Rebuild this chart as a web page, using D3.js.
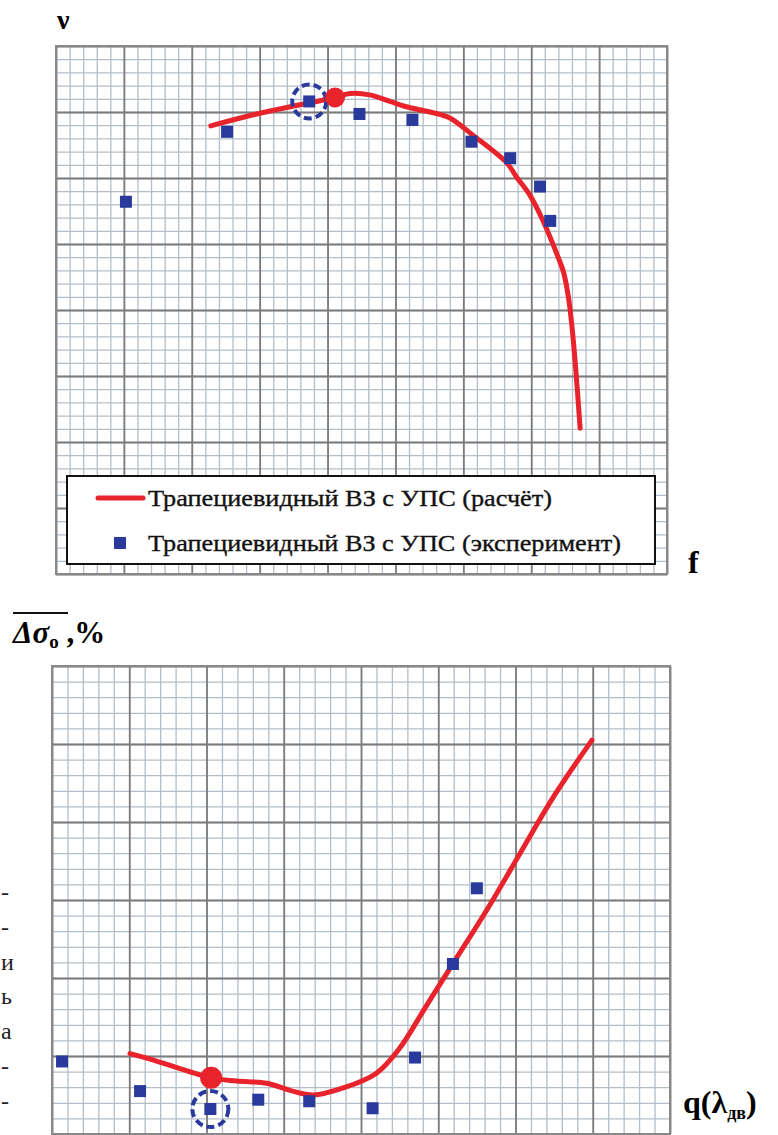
<!DOCTYPE html>
<html>
<head>
<meta charset="utf-8">
<script src="https://cdn.jsdelivr.net/npm/d3@7"></script>
<style>
  body { margin: 0; background: #fff; }
  svg { display: block; }
  text { font-family: "Liberation Serif", "DejaVu Serif", serif; }
</style>
</head>
<body>
<svg id="chart" width="778" height="1135"></svg>
<script>
// top chart, values in major grid cells (f: 0..9, v: 0..8)
const calcF = [2.28, 3.00, 4.11, 4.33, 4.62, 4.92, 5.16, 5.51, 5.80, 6.14, 6.64, 6.78, 6.98, 7.17, 7.40, 7.48, 7.55, 7.60, 7.66, 7.72];
const calcV = [6.79, 6.98, 7.22, 7.28, 7.26, 7.16, 7.08, 7.00, 6.91, 6.65, 6.23, 6.02, 5.74, 5.36, 4.79, 4.56, 4.18, 3.75, 3.05, 2.21];
const expF = [1.03, 2.52, 3.73, 4.47, 5.25, 6.12, 6.69, 7.13, 7.28];
const expV = [5.64, 6.70, 7.16, 6.97, 6.88, 6.55, 6.30, 5.87, 5.35];
const designTop = [4.11, 7.22];
const circledTop = [3.73, 7.16];

// bottom chart, values in major grid cells (q: 0..8, dsigma: 0..6)
const calcQ = [1.01, 1.27, 2.06, 2.39, 2.78, 3.08, 3.38, 3.77, 4.20, 4.50, 4.85, 5.22, 5.67, 6.06, 6.51, 6.99];
const calcS = [1.03, 0.96, 0.72, 0.68, 0.65, 0.56, 0.50, 0.59, 0.78, 1.10, 1.65, 2.23, 2.94, 3.60, 4.35, 5.05];
const expQ = [0.13, 1.14, 2.05, 2.67, 3.33, 4.15, 4.70, 5.19, 5.50];
const expS = [0.93, 0.55, 0.32, 0.44, 0.42, 0.33, 0.98, 2.18, 3.15];
const designBot = [2.06, 0.72];
const circledBot = [2.05, 0.32];

const legendLabels = ["Трапециевидный ВЗ с УПС (расчёт)", "Трапециевидный ВЗ с УПС (эксперимент)"];
const sideText = ["-", "-", "и", "ь", "а", "-", "-"];

const RED = "#e8232b", BLUE = "#2a3a9c";
const svg = d3.select("#chart");

function grid(g, x, y, nx, ny) {
  const w = x.range()[1] - x.range()[0];
  const h = y.range()[0] - y.range()[1];
  const minorX = d3.range(0, nx * 5 + 1).map(d => d / 5);
  const minorY = d3.range(0, ny * 5 + 1).map(d => d / 5);
  const majorX = d3.range(0, nx + 1);
  const majorY = d3.range(0, ny + 1);

  g.append("g")
    .attr("transform", "translate(0," + y.range()[0] + ")")
    .call(d3.axisBottom(x).tickValues(minorX).tickSize(-h).tickFormat(""))
    .call(a => a.selectAll("line").attr("stroke", "#b4bec8").attr("stroke-width", 1.3))
    .call(a => a.select(".domain").remove());
  g.append("g")
    .attr("transform", "translate(" + x.range()[0] + ",0)")
    .call(d3.axisLeft(y).tickValues(minorY).tickSize(-w).tickFormat(""))
    .call(a => a.selectAll("line").attr("stroke", "#b4bec8").attr("stroke-width", 1.3))
    .call(a => a.select(".domain").remove());
  g.append("g")
    .attr("transform", "translate(0," + y.range()[0] + ")")
    .call(d3.axisBottom(x).tickValues(majorX).tickSize(-h).tickFormat(""))
    .call(a => a.selectAll("line").attr("stroke", "#7c7c7c").attr("stroke-width", 1.8))
    .call(a => a.select(".domain").remove());
  g.append("g")
    .attr("transform", "translate(" + x.range()[0] + ",0)")
    .call(d3.axisLeft(y).tickValues(majorY).tickSize(-w).tickFormat(""))
    .call(a => a.selectAll("line").attr("stroke", "#7c7c7c").attr("stroke-width", 1.8))
    .call(a => a.select(".domain").remove());
  g.append("rect")
    .attr("x", x.range()[0]).attr("y", y.range()[1])
    .attr("width", w).attr("height", h)
    .attr("fill", "none").attr("stroke", "#888").attr("stroke-width", 2);
}

function series(g, x, y, cx, cy, ex, ey, design, circled, rDot, rCirc) {
  const pts = cx.map((d, i) => [d, cy[i]]);
  g.append("path")
    .datum(pts)
    .attr("fill", "none")
    .attr("stroke", RED)
    .attr("stroke-width", 5)
    .attr("stroke-linecap", "round")
    .attr("d", d3.line().x(d => x(d[0])).y(d => y(d[1])).curve(d3.curveCatmullRom.alpha(0.5)));

  g.append("circle")
    .attr("cx", x(circled[0])).attr("cy", y(circled[1])).attr("r", rCirc)
    .attr("fill", "none").attr("stroke", BLUE).attr("stroke-width", 4)
    .attr("stroke-dasharray", "8,4");

  g.selectAll(".sq")
    .data(ex.map((d, i) => [d, ey[i]])).enter()
    .append("rect")
      .attr("x", d => x(d[0]) - 6)
      .attr("y", d => y(d[1]) - 6)
      .attr("width", 12).attr("height", 12)
      .attr("fill", BLUE);

  g.append("circle")
    .attr("cx", x(design[0])).attr("cy", y(design[1])).attr("r", rDot)
    .attr("fill", RED);
}

// ---------- top chart ----------
const xTop = d3.scaleLinear().domain([0, 9]).range([56, 667]);
const yTop = d3.scaleLinear().domain([0, 8]).range([574, 46]);
const gTop = svg.append("g");
grid(gTop, xTop, yTop, 9, 8);
series(gTop, xTop, yTop, calcF, calcV, expF, expV, designTop, circledTop, 10, 17);

// legend
const leg = gTop.append("g");
leg.append("rect")
  .attr("x", 67).attr("y", 476).attr("width", 588).attr("height", 88)
  .attr("fill", "#fff").attr("stroke", "#111").attr("stroke-width", 2);
leg.append("line")
  .attr("x1", 98).attr("x2", 143).attr("y1", 498).attr("y2", 498)
  .attr("stroke", RED).attr("stroke-width", 5).attr("stroke-linecap", "round");
leg.append("rect")
  .attr("x", 114).attr("y", 537).attr("width", 12).attr("height", 12)
  .attr("fill", BLUE);
leg.selectAll("text")
  .data(legendLabels).enter()
  .append("text")
    .attr("x", 148)
    .attr("y", (d, i) => 506 + i * 45)
    .attr("textLength", (d, i) => i === 0 ? 404 : 473)
    .attr("lengthAdjust", "spacingAndGlyphs")
    .style("font-size", "24px")
    .attr("fill", "#111")
    .attr("stroke", "#111").attr("stroke-width", 0.35)
    .text(d => d);

svg.append("text")
  .text("ν")
  .attr("x", 57).attr("y", 29)
  .style("font-size", "28px")
  .attr("font-weight", "bold");

svg.append("text")
  .text("f")
  .attr("x", 688).attr("y", 573)
  .style("font-size", "32px")
  .attr("font-weight", "bold");

// ---------- bottom chart ----------
const xBot = d3.scaleLinear().domain([0, 8]).range([52, 670]);
const yBot = d3.scaleLinear().domain([0, 6]).range([1134, 666]);
const gBot = svg.append("g");
grid(gBot, xBot, yBot, 8, 6);
series(gBot, xBot, yBot, calcQ, calcS, expQ, expS, designBot, circledBot, 11, 18);

// y label: overline Δσ, subscript o, ",%"
const yl = svg.append("text")
  .attr("x", 13).attr("y", 643)
  .style("font-size", "31px")
  .attr("font-weight", "bold");
yl.append("tspan").text("Δσ").attr("font-style", "italic");
yl.append("tspan").text("o").attr("dy", 5).style("font-size", "19px");
yl.append("tspan").text(" ,%").attr("dy", -5);
svg.append("line")
  .attr("x1", 13).attr("x2", 68).attr("y1", 613).attr("y2", 613)
  .attr("stroke", "#111").attr("stroke-width", 2);

const xl = svg.append("text")
  .attr("x", 683).attr("y", 1113)
  .style("font-size", "32px")
  .attr("font-weight", "bold");
xl.append("tspan").text("q(λ");
xl.append("tspan").text("дв").attr("dy", 6).style("font-size", "18px");
xl.append("tspan").text(")").attr("dy", -6);

// cut-off words of the surrounding page text
svg.selectAll(".side")
  .data(sideText).enter()
  .append("text")
    .attr("x", 1)
    .attr("y", (d, i) => 900 + i * 34.8)
    .style("font-size", "24px")
    .attr("fill", "#222")
    .text(d => d);
</script>
</body>
</html>
